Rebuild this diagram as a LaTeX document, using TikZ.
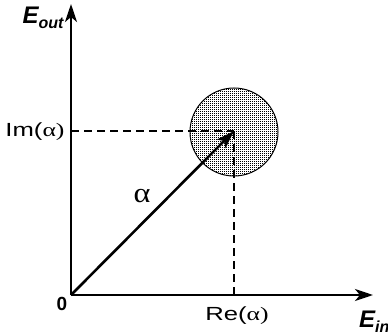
\documentclass[tikz,border=0pt]{standalone}
\usepackage{fontspec}
\setmainfont{Liberation Sans}
\newfontfamily\serifalpha{Liberation Serif}
\usetikzlibrary{arrows.meta,patterns}
\pgfdeclarepatternformonly{finedots}{\pgfpointorigin}{\pgfpoint{2pt}{2pt}}{\pgfpoint{2pt}{2pt}}{%
  \pgfpathrectangle{\pgfpointorigin}{\pgfpoint{1.15pt}{1.15pt}}\pgfusepath{fill}}
\tikzset{
  axis/.style={line width=2.6pt,-{Stealth[length=18pt,width=12pt,inset=5pt]}},
  vec/.style={line width=2.6pt,-{Stealth[length=18pt,width=12pt,inset=4pt]}},
  guide/.style={line width=1.7pt,dash pattern=on 8pt off 5pt},
  lbl/.style={inner sep=0pt,font=\fontsize{19}{19}\selectfont}
}
\begin{document}
\begin{tikzpicture}[x=1pt,y=-1pt]
\useasboundingbox (0,0) rectangle (388,334);
\coordinate (O) at (71,295);
\coordinate (ytip) at (71,4);
\coordinate (xtip) at (373,295);
\coordinate (P) at (234,131);
\coordinate (Pim) at (71,131);
\coordinate (Pre) at (234,295);
\node[circle,draw,line width=1pt,pattern=finedots,minimum size=88pt,inner sep=0pt] (C) at (234,132) {};
\draw[guide] (Pim) -- (P);
\draw[guide] (P) -- (Pre);
\draw[axis] (O) -- (ytip);
\draw[axis] (O) -- (xtip);
\draw[vec] (O) -- (P);
\node[lbl] (eout) at (43,18) {\bfseries\itshape\fontsize{24}{24}\selectfont E\raisebox{-5pt}{\fontsize{16}{16}\selectfont out}};
\node[lbl,anchor=west] (ein) at (359,322) {\bfseries\itshape\fontsize{24}{24}\selectfont E\raisebox{-5pt}{\fontsize{16}{16}\selectfont in}};
\node[lbl] (im) at (35,132) {\scalebox{1.35}[1]{Im(\serifalpha α)}};
\node[lbl] (re) at (237,316) {\scalebox{1.35}[1]{Re(\serifalpha α)}};
\node[lbl] (al) at (142,196) {\serifalpha\fontsize{28}{28}\selectfont\scalebox{1.15}[1]{α}};
\node[lbl] (zero) at (62,304) {\bfseries\fontsize{19}{19}\selectfont 0};
\end{tikzpicture}
\end{document}
